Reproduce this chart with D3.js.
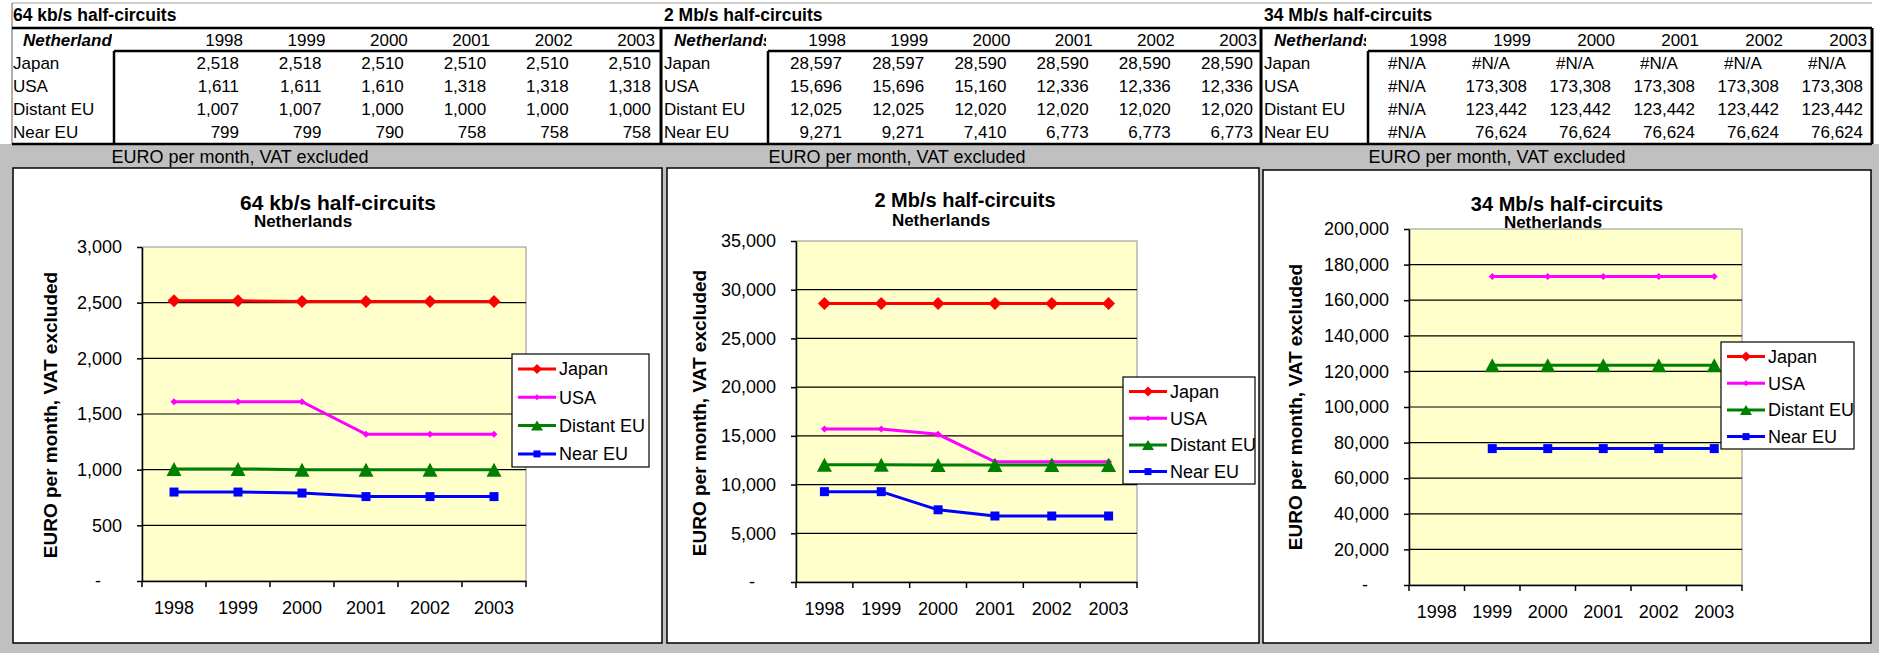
<!DOCTYPE html>
<html>
<head>
<meta charset="utf-8">
<script src="https://cdn.jsdelivr.net/npm/d3@7"></script>
<style>
    body { margin: 0; background: #fff; }
    svg { display: block; }
    text { font-family: "Liberation Sans", Arial, sans-serif; }
</style>
</head>
<body>
<svg id="main" width="1879" height="653"></svg>
<script>
const width = 1879;
const height = 653;

const years = ['1998', '1999', '2000', '2001', '2002', '2003'];
const seriesNames = ['Japan', 'USA', 'Distant EU', 'Near EU'];
const seriesColors = ['#ff0000', '#ff00ff', '#008000', '#0000ff'];

// 64 kb/s half-circuits
const japan64 = [2518, 2518, 2510, 2510, 2510, 2510];
const usa64 = [1611, 1611, 1610, 1318, 1318, 1318];
const distant64 = [1007, 1007, 1000, 1000, 1000, 1000];
const near64 = [799, 799, 790, 758, 758, 758];
const ticks64 = [0, 500, 1000, 1500, 2000, 2500, 3000];

// 2 Mb/s half-circuits
const japan2m = [28597, 28597, 28590, 28590, 28590, 28590];
const usa2m = [15696, 15696, 15160, 12336, 12336, 12336];
const distant2m = [12025, 12025, 12020, 12020, 12020, 12020];
const near2m = [9271, 9271, 7410, 6773, 6773, 6773];
const ticks2m = [0, 5000, 10000, 15000, 20000, 25000, 30000, 35000];

// 34 Mb/s half-circuits (null = #N/A)
const japan34m = [null, null, null, null, null, null];
const usa34m = [null, 173308, 173308, 173308, 173308, 173308];
const distant34m = [null, 123442, 123442, 123442, 123442, 123442];
const near34m = [null, 76624, 76624, 76624, 76624, 76624];
const ticks34m = [0, 20000, 40000, 60000, 80000, 100000, 120000, 140000, 160000, 180000, 200000];

const titles = ['64 kb/s half-circuits', '2 Mb/s half-circuits', '34 Mb/s half-circuits'];
const datasets = [
    [japan64, usa64, distant64, near64],
    [japan2m, usa2m, distant2m, near2m],
    [japan34m, usa34m, distant34m, near34m]
];
const tickSets = [ticks64, ticks2m, ticks34m];

// layout of the three table blocks
const sections = [
    { x0: 12, labelX: 13, dataLeft: 114, right: 661, firstCol: 243, lastCol: 655, noteX: 240 },
    { x0: 661, labelX: 664, dataLeft: 768, right: 1261, firstCol: 846, lastCol: 1257, noteX: 897 },
    { x0: 1261, labelX: 1264, dataLeft: 1368, right: 1872, firstCol: 1447, lastCol: 1867, noteX: 1497 }
];

// layout of the three chart panels
const charts = [
    {
        panel: { x: 13, y: 168, w: 649, h: 475 },
        plot: { l: 142, t: 247, r: 526, b: 581 },
        titleX: 338, titleY: 210, subX: 303, subY: 227,
        yTitleX: 50, yTitleY: 415,
        legend: { x: 512, y: 354, w: 137, h: 113, first: 15, step: 28.3 }
    },
    {
        panel: { x: 667, y: 168, w: 592, h: 475 },
        plot: { l: 796, t: 241, r: 1137, b: 582 },
        titleX: 965, titleY: 207, subX: 941, subY: 226,
        yTitleX: 699, yTitleY: 413,
        legend: { x: 1123, y: 377, w: 132, h: 107, first: 14.5, step: 26.7 }
    },
    {
        panel: { x: 1263, y: 170, w: 608, h: 473 },
        plot: { l: 1409, t: 229, r: 1742, b: 585 },
        titleX: 1567, titleY: 211, subX: 1553, subY: 228,
        yTitleX: 1295, yTitleY: 407,
        legend: { x: 1721, y: 342, w: 133, h: 107, first: 14.5, step: 26.7 }
    }
];

const svg = d3.select('#main');
const fmt = d3.format(',');

// marker shapes (Excel style)
function marker(i, big) {
    if (i === 0) {
        const r = big ? 6.5 : 5;
        return `M0,${-r}L${r},0L0,${r}L${-r},0Z`;
    }
    if (i === 1) {
        const r = big ? 3.5 : 3;
        return `M0,${-r}L${r},0L0,${r}L${-r},0Z`;
    }
    if (i === 2) {
        const w = big ? 15 : 12, h = big ? 14 : 10;
        return `M0,${-h / 2}L${w / 2},${h / 2}L${-w / 2},${h / 2}Z`;
    }
    const s = big ? 9 : 7;
    return `M${-s / 2},${-s / 2}h${s}v${s}h${-s}Z`;
}

// backgrounds
svg.append('rect').attr('width', width).attr('height', height).attr('fill', '#fff');
svg.append('rect').attr('x', 0).attr('y', 144).attr('width', width).attr('height', height - 144).attr('fill', '#c0c0c0');

// ---------- tables ----------
const defs = svg.append('defs');
const rowY = [69, 92, 115, 138];

sections.forEach((sec, si) => {
    const g = svg.append('g');
    const colX = d3.scalePoint().domain(years).range([sec.firstCol, sec.lastCol]);
    const step = colX.step();

    g.append('text')
        .attr('x', sec.labelX).attr('y', 21)
        .attr('font-size', 17.5).attr('font-weight', 'bold')
        .text(titles[si]);

    defs.append('clipPath').attr('id', 'hclip' + si)
        .append('rect').attr('x', sec.x0).attr('y', 28).attr('width', sec.dataLeft - sec.x0 - 2).attr('height', 23);
    g.append('text')
        .attr('clip-path', `url(#hclip${si})`)
        .attr('x', sec.labelX + 10).attr('y', 46)
        .attr('font-size', 17).attr('font-weight', 'bold').attr('font-style', 'italic')
        .text('Netherlands');

    g.selectAll('.yr').data(years).join('text')
        .attr('x', d => colX(d)).attr('y', 46)
        .attr('text-anchor', 'end').attr('font-size', 17)
        .text(d => d);

    seriesNames.forEach((name, ri) => {
        g.append('text')
            .attr('x', sec.labelX).attr('y', rowY[ri])
            .attr('font-size', 17)
            .text(name);
        g.selectAll('.v' + ri).data(datasets[si][ri]).join('text')
            .attr('x', (d, k) => d == null ? colX(years[k]) - step / 2 + 2 : colX(years[k]) - 4)
            .attr('y', rowY[ri])
            .attr('text-anchor', d => d == null ? 'middle' : 'end')
            .attr('font-size', 17)
            .text(d => d == null ? '#N/A' : fmt(d));
    });

    // grid of the block
    g.append('line').attr('x1', sec.dataLeft).attr('x2', sec.right).attr('y1', 51).attr('y2', 51)
        .attr('stroke', '#000').attr('stroke-width', 2.5);
    g.append('line').attr('x1', sec.dataLeft).attr('x2', sec.dataLeft).attr('y1', 51).attr('y2', 144)
        .attr('stroke', '#000').attr('stroke-width', 2.5);
    g.append('line').attr('x1', sec.right).attr('x2', sec.right).attr('y1', 28).attr('y2', 144)
        .attr('stroke', '#000').attr('stroke-width', 3);

    g.append('text')
        .attr('x', sec.noteX).attr('y', 163)
        .attr('text-anchor', 'middle').attr('font-size', 18)
        .text('EURO per month, VAT excluded');
});

svg.append('line').attr('x1', 12).attr('x2', 1872).attr('y1', 3).attr('y2', 3).attr('stroke', '#a0a0a0');
svg.append('line').attr('x1', 12).attr('x2', 12).attr('y1', 3).attr('y2', 144).attr('stroke', '#606060');
svg.append('line').attr('x1', 12).attr('x2', 1872).attr('y1', 28).attr('y2', 28).attr('stroke', '#000').attr('stroke-width', 2.5);
svg.append('line').attr('x1', 12).attr('x2', 1872).attr('y1', 144).attr('y2', 144).attr('stroke', '#000').attr('stroke-width', 2.5);

// ---------- charts ----------
charts.forEach((c, ci) => {
    const g = svg.append('g');
    const p = c.plot;
    const ticks = tickSets[ci];

    g.append('rect')
        .attr('x', c.panel.x).attr('y', c.panel.y).attr('width', c.panel.w).attr('height', c.panel.h)
        .attr('fill', '#fff').attr('stroke', '#000').attr('stroke-width', 1.5);

    const x = d3.scaleBand().domain(years).range([p.l, p.r]).padding(0);
    const y = d3.scaleLinear().domain([0, d3.max(ticks)]).range([p.b, p.t]);

    g.append('rect')
        .attr('x', p.l).attr('y', p.t).attr('width', p.r - p.l).attr('height', p.b - p.t)
        .attr('fill', '#ffffcc').attr('stroke', '#909090').attr('stroke-width', 1);

    g.selectAll('.grid').data(ticks.slice(1, -1)).join('line')
        .attr('x1', p.l).attr('x2', p.r)
        .attr('y1', d => y(d)).attr('y2', d => y(d))
        .attr('stroke', '#000').attr('stroke-width', 1.2);

    const yAxis = g.append('g')
        .attr('transform', `translate(${p.l},0)`)
        .call(d3.axisLeft(y).tickValues(ticks).tickSize(5).tickSizeOuter(0).tickPadding(15)
            .tickFormat(d => d === 0 ? '-' : fmt(d)));
    yAxis.selectAll('text').attr('font-size', 18).attr('fill', '#000')
        .attr('dx', d => d === 0 ? -21 : 0);
    yAxis.selectAll('line, path').attr('stroke', '#000').attr('stroke-width', 1.5);

    const xAxis = g.append('g')
        .attr('transform', `translate(0,${p.b})`)
        .call(d3.axisBottom(x).tickSize(0).tickPadding(20));
    xAxis.selectAll('text').attr('font-size', 18).attr('fill', '#000');
    xAxis.selectAll('path').attr('stroke', '#000').attr('stroke-width', 1.5);
    const edges = years.map(d => x(d)).concat([x.range()[1]]);
    g.selectAll('.xt').data(edges).join('line')
        .attr('x1', d => d).attr('x2', d => d)
        .attr('y1', p.b).attr('y2', p.b + 6)
        .attr('stroke', '#000').attr('stroke-width', 1.5);

    const line = d3.line()
        .defined(d => d != null)
        .x((d, k) => x(years[k]) + x.bandwidth() / 2)
        .y(d => y(d));

    datasets[ci].forEach((vals, si) => {
        g.append('path')
            .attr('d', line(vals))
            .attr('fill', 'none')
            .attr('stroke', seriesColors[si])
            .attr('stroke-width', 3);
        g.selectAll('.m' + si)
            .data(vals.map((v, k) => ({ v, k })).filter(d => d.v != null))
            .join('path')
            .attr('transform', d => `translate(${x(years[d.k]) + x.bandwidth() / 2},${y(d.v)})`)
            .attr('d', marker(si, true))
            .attr('fill', seriesColors[si]);
    });

    // titles
    g.append('text')
        .attr('x', c.titleX).attr('y', c.titleY)
        .attr('text-anchor', 'middle').attr('font-size', ci === 0 ? 21 : 20).attr('font-weight', 'bold')
        .text(titles[ci]);
    g.append('text')
        .attr('x', c.subX).attr('y', c.subY)
        .attr('text-anchor', 'middle').attr('font-size', 17).attr('font-weight', 'bold')
        .text('Netherlands');
    g.append('text')
        .attr('transform', `translate(${c.yTitleX},${c.yTitleY}) rotate(-90)`)
        .attr('text-anchor', 'middle').attr('dominant-baseline', 'central')
        .attr('font-size', 19).attr('font-weight', 'bold')
        .text('EURO per month, VAT excluded');

    // legend
    const L = c.legend;
    const lg = g.append('g').attr('transform', `translate(${L.x},${L.y})`);
    lg.append('rect').attr('width', L.w).attr('height', L.h)
        .attr('fill', '#fff').attr('stroke', '#000').attr('stroke-width', 1.2);
    seriesNames.forEach((name, si) => {
        const ly = L.first + si * L.step;
        lg.append('line').attr('x1', 6).attr('x2', 44).attr('y1', ly).attr('y2', ly)
            .attr('stroke', seriesColors[si]).attr('stroke-width', 3);
        lg.append('path').attr('transform', `translate(25,${ly})`)
            .attr('d', marker(si, false)).attr('fill', seriesColors[si]);
        lg.append('text').attr('x', 47).attr('y', ly).attr('dy', '0.36em')
            .attr('font-size', 18).text(name);
    });
});
</script>
</body>
</html>
